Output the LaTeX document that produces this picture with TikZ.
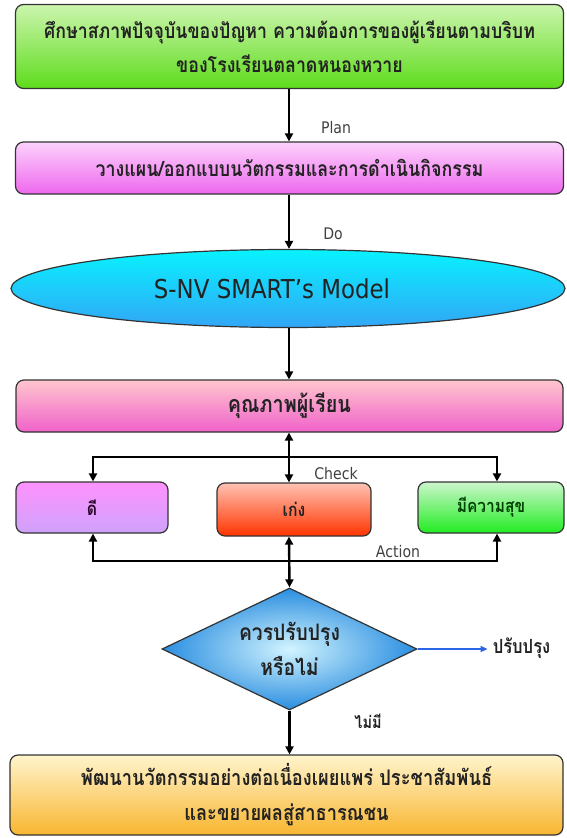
\documentclass[tikz,border=0pt]{standalone}
\usepackage{fontspec}
\usetikzlibrary{shapes.geometric,arrows.meta,shadings}
\newfontfamily\thai[Script=Thai,FakeStretch=0.85]{Loma}
\newfontfamily\lat[FakeStretch=0.88]{DejaVu Sans}
\definecolor{gtop}{HTML}{CCF5AE}
\definecolor{gbot}{HTML}{5EDC1C}
\definecolor{ptop}{HTML}{FCD2FC}
\definecolor{pbot}{HTML}{EE68EE}
\definecolor{etop}{HTML}{08F2FF}
\definecolor{ebot}{HTML}{32A6F6}
\definecolor{qtop}{HTML}{FFC6CE}
\definecolor{qbot}{HTML}{F062CA}
\definecolor{dtop}{HTML}{FF92FF}
\definecolor{dbot}{HTML}{CEA2FA}
\definecolor{ktop}{HTML}{FFC2B2}
\definecolor{kbot}{HTML}{FF3400}
\definecolor{htop}{HTML}{CCF6CC}
\definecolor{hbot}{HTML}{22EC22}
\definecolor{din}{HTML}{D2F4FF}
\definecolor{dout}{HTML}{2A8EE0}
\definecolor{ytop}{HTML}{FFF4CC}
\definecolor{ybot}{HTML}{F8B630}
\definecolor{barrow}{HTML}{2C66E6}
\definecolor{txt}{HTML}{222222}
\begin{document}
\begin{tikzpicture}[x=1pt,y=-1pt,
  box/.style={draw=black!80, line width=1.2pt, rounded corners=8pt, align=center, inner sep=0pt, text=txt},
  th/.style={font=\thai\bfseries\fontsize{#1}{34}\selectfont},
  th/.default=21,
  arr/.style={line width=2.4pt, -{Triangle[length=8pt,width=8pt]}},
  darr/.style={line width=2.4pt, {Triangle[length=8pt,width=8pt]}-{Triangle[length=8pt,width=8pt]}},
  lbl/.style={font=\lat\fontsize{16}{18}\selectfont, text=black!75, inner sep=0pt}
]
\useasboundingbox (0,0) rectangle (566,838);

\node[box, th=20.9, top color=gtop, bottom color=gbot, minimum width=548pt, minimum height=84pt] (study) at (289.5,46.5)
  {ศึกษาสภาพปัจจุบันของปัญหา ความต้องการของผู้เรียนตามบริบท\\ของโรงเรียนตลาดหนองหวาย};
\node[box, th=21, top color=ptop, bottom color=pbot, minimum width=548pt, minimum height=52pt] (plan) at (289.5,168)
  {วางแผน/ออกแบบนวัตกรรมและการดำเนินกิจกรรม};
\node[ellipse, draw=black!80, line width=1.2pt, top color=etop, bottom color=ebot, minimum width=554pt, minimum height=78pt, inner sep=0pt] (model) at (288,288.5) {};
\node[text=txt, font=\lat\fontsize{26}{28}\selectfont, inner sep=0pt] (mtext) at ([xshift=-16pt]model.center) {S-NV SMART’s Model};
\node[box, th=23.3, top color=qtop, bottom color=qbot, minimum width=547pt, minimum height=52pt] (quality) at (289.5,406)
  {คุณภาพผู้เรียน};
\node[box, th=18.5, top color=dtop, bottom color=dbot, minimum width=152pt, minimum height=51pt, text=black!70!violet] (dee) at (92,507.5) {ดี};
\node[box, th=18.5, top color=ktop, bottom color=kbot, minimum width=154pt, minimum height=53pt] (keng) at (294,509.5) {เก่ง};
\node[box, th=18.2, top color=htop, bottom color=hbot, minimum width=146pt, minimum height=51pt, text=black!75!green] (happy) at (491,507.5) {มีความสุข};
\node[diamond, draw=black!80, line width=1.2pt, inner color=din, outer color=dout, minimum width=255pt, minimum height=122pt, inner sep=0pt] (decide) at (289.5,649) {};
\node[font=\thai\bfseries\fontsize{22.7}{35}\selectfont, text=txt, align=center] (dtext) at (decide.center) {ควรปรับปรุง\\หรือไม่};
\node[box, font=\thai\bfseries\fontsize{21.5}{35}\selectfont, top color=ytop, bottom color=ybot, minimum width=553pt, minimum height=80pt] (dev) at (286.5,795)
  {พัฒนานวัตกรรมอย่างต่อเนื่องเผยแพร่ ประชาสัมพันธ์\\และขยายผลสู่สาธารณชน};

% labels
\node[lbl] (lplan) at (336,128) {Plan};
\node[lbl] (ldo) at (333,234) {Do};
\node[lbl] (lcheck) at (336,474) {Check};
\node[lbl] (laction) at (398,552) {Action};
\node[font=\thai\bfseries\fontsize{19.5}{21}\selectfont, text=txt, inner sep=0pt] (improve) at (521.5,648) {ปรับปรุง};
\node[font=\thai\bfseries\fontsize{17}{19}\selectfont, text=txt, inner sep=0pt] (nomore) at (368,721) {ไม่มี};

% connectors
\draw[arr] (study.south -| 289,0) -- (plan.north -| 289,0);
\draw[arr] (plan.south -| 289,0) -- (model.north -| 289,0);
\draw[arr] (model.south -| 289,0) -- (quality.north -| 289,0);
\draw[darr] (quality.south -| 289,0) -- (keng.north -| 289,0);

\coordinate (tl) at (93,457);
\coordinate (tr) at (497,457);
\coordinate (bl) at (93,561);
\coordinate (br) at (497,561);
\draw[arr] (tr) -- (tl) -- (tl |- dee.north);
\draw[arr] (tl) -- (tr) -- (tr |- happy.north);
\draw[arr] (br) -- (bl) -- (bl |- dee.south);
\draw[arr] (bl) -- (br) -- (br |- happy.south);
\draw[darr] (keng.south -| 289,0) -- (decide.north);
\draw[line width=1.8pt, barrow, -{Triangle[length=7pt,width=6pt]}] (decide.east) -- ([xshift=-5pt]improve.west |- decide.east);
\draw[arr] (decide.south) -- (dev.north -| decide.south);
\end{tikzpicture}
\end{document}
